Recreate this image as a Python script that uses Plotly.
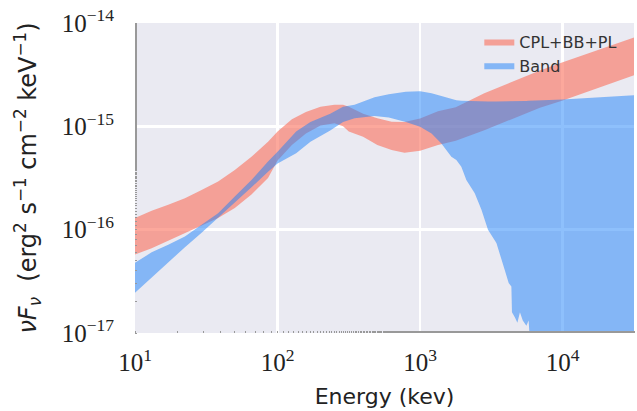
import plotly.graph_objects as go

# ---- data (energy in keV, flux nuFnu) ----
cpl_energy = [10, 13.09, 17.1, 22.39, 29.31, 38.28, 50.12, 65.61, 85.7, 100, 126, 158, 200,
              251, 288, 316, 398, 501, 631, 776, 1000, 1334, 1778, 2818, 6918, 10000, 31623]
cpl_upper = [1.294e-16, 1.521e-16, 1.738e-16, 2.018e-16, 2.427e-16, 2.917e-16, 3.784e-16,
             5.082e-16, 7.079e-16, 8.913e-16, 1.17e-15, 1.38e-15, 1.55e-15, 1.62e-15, 1.62e-15,
             1.55e-15, 1.32e-15, 1.20e-15, 1.11e-15, 1.10e-15, 1.19e-15, 1.40e-15,
             1.53e-15, 2.09e-15, 3.47e-15, 4.17e-15, 7.24e-15]
cpl_lower = [5.754e-17, 6.607e-17, 7.762e-17, 9.333e-17, 1.096e-16, 1.294e-16, 1.622e-16,
             2.188e-16, 3.162e-16, 4.677e-16, 6.61e-16, 8.51e-16, 1.02e-15, 1.07e-15, 1.00e-15,
             8.91e-16, 7.94e-16, 6.61e-16, 5.89e-16, 5.56e-16, 5.81e-16, 6.61e-16,
             7.24e-16, 9.18e-16, 1.51e-15, 1.78e-15, 3.12e-15]

band_energy = [10, 13.09, 17.1, 22.39, 29.31, 38.28, 50.12, 65.61, 85.7, 100, 135, 170, 234,
               288, 347, 479, 603, 794, 1000, 1202, 1409, 1656, 1795, 1945, 2109, 2415,
               2692, 2871, 2992, 3428, 3614, 3917, 4178, 4365, 4406, 4624, 4808, 5012,
               5248, 5559, 5768, 6026, 6500, 10000, 31623]
band_upper = [4.79e-17, 6.03e-17, 7.16e-17, 8.61e-17, 1.114e-16, 1.445e-16, 2.089e-16,
              3.02e-16, 4.571e-16, 5.675e-16, 8.91e-16, 1.10e-15, 1.32e-15,
              1.55e-15, 1.62e-15, 1.91e-15, 2.04e-15, 2.16e-15, 2.19e-15, 2.09e-15,
              1.97e-15, 1.83e-15, 1.79e-15, 1.77e-15, 1.76e-15, 1.75e-15, 1.74e-15,
              1.74e-15, 1.74e-15, 1.74e-15, 1.74e-15, 1.74e-15, 1.75e-15, 1.75e-15,
              1.75e-15, 1.75e-15, 1.75e-15, 1.75e-15, 1.76e-15, 1.76e-15, 1.77e-15,
              1.77e-15, 1.78e-15, 1.82e-15, 2.00e-15]
band_lower = [2.455e-17, 3.467e-17, 4.786e-17, 6.761e-17, 9.333e-17, 1.318e-16, 1.82e-16,
              2.57e-16, 3.631e-16, 4.365e-16, 5.50e-16, 7.08e-16, 9.12e-16,
              1.10e-15, 1.20e-15, 1.26e-15, 1.22e-15, 1.10e-15, 9.886e-16, 8.511e-16,
              6.839e-16, 5.082e-16, 4.721e-16, 4.074e-16, 3.027e-16, 2.254e-16, 1.556e-16,
              1.20e-16, 1.00e-16, 7.413e-17, 5.754e-17, 4.102e-17, 3.055e-17, 2.818e-17,
              1.585e-17, 1.413e-17, 1.259e-17, 1.585e-17, 1.318e-17, 1.175e-17, 1.318e-17,
              5.0e-18, 1.0e-19, 1.0e-19, 1.0e-19]

x_tickvals = [10, 100, 1000, 10000]
x_ticktext = ["10<sup>1</sup>", "10<sup>2</sup>", "10<sup>3</sup>", "10<sup>4</sup>"]
y_tickvals = [1e-17, 1e-16, 1e-15, 1e-14]
y_ticktext = ["10<sup>−17</sup>", "10<sup>−16</sup>", "10<sup>−15</sup>", "10<sup>−14</sup>"]

fig = go.Figure()
fig.add_trace(go.Scatter(
    x=cpl_energy + cpl_energy[::-1],
    y=cpl_upper + cpl_lower[::-1],
    fill="toself", mode="lines", line=dict(width=0),
    fillcolor="rgba(250,110,90,0.6)", name="CPL+BB+PL", hoverinfo="skip"))
fig.add_trace(go.Scatter(
    x=band_energy + band_energy[::-1],
    y=band_upper + band_lower[::-1],
    fill="toself", mode="lines", line=dict(width=0),
    fillcolor="rgba(30,130,250,0.5)", name="Band", hoverinfo="skip"))

tick_font = dict(family="Liberation Serif", size=25, color="#222")
fig.update_layout(
    width=637, height=411,
    margin=dict(l=135, r=3, t=22.5, b=77.5, autoexpand=False),
    paper_bgcolor="white", plot_bgcolor="#EAEAF2",
    font=dict(family="DejaVu Sans", color="#222"),
    showlegend=True,
    legend=dict(x=0.69, y=0.995, xanchor="left", yanchor="top",
                bgcolor="rgba(0,0,0,0)", font=dict(size=16, color="#333"),
                itemsizing="constant", tracegroupgap=0),
    xaxis=dict(type="log", range=[1, 4.5], tickvals=x_tickvals, ticktext=x_ticktext,
               automargin=False, ticklabeloverflow="allow",
               showgrid=True, gridcolor="white", gridwidth=2.5, zeroline=False,
               showline=False, ticks="", tickfont=tick_font, ticklabelstandoff=12,
               minor=dict(ticks="inside", ticklen=2, tickcolor="#999", showgrid=False),
               title=dict(text="Energy (kev)", font=dict(size=22, color="#222"), standoff=13)),
    yaxis=dict(type="log", range=[-17, -14], tickvals=y_tickvals, ticktext=y_ticktext,
               automargin=False, ticklabeloverflow="allow",
               showgrid=True, gridcolor="white", gridwidth=2.5, zeroline=False,
               showline=False, ticks="", tickfont=tick_font, ticklabelstandoff=20,
               minor=dict(ticks="inside", ticklen=2, tickcolor="#999", showgrid=False),
               title=dict(text="<i>νF</i><sub><i>ν</i></sub>  (erg<sup>2</sup> s<sup>−1</sup> cm<sup>−2</sup> keV<sup>−1</sup>)",
                          font=dict(size=24, color="#222"), standoff=18)),
)
fig.write_html("out.html",
               config={"displayModeBar": False, "staticPlot": True},
               post_script="document.body.style.margin='0';"
                           "document.documentElement.style.overflow='hidden';")
